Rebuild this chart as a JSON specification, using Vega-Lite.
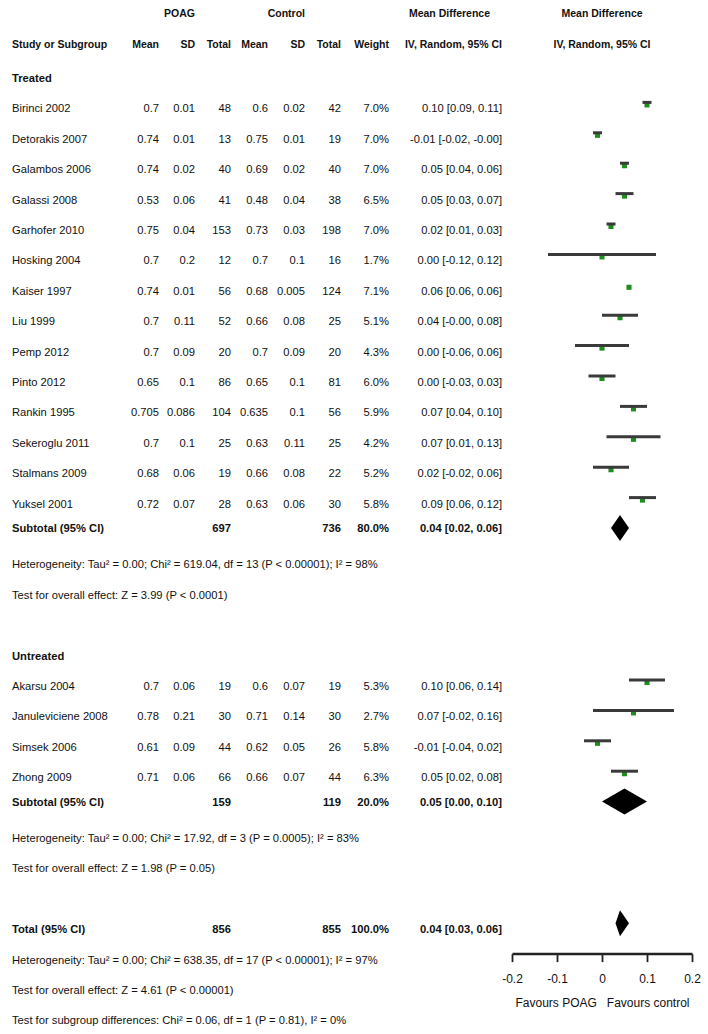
{
  "$schema": "https://vega.github.io/schema/vega-lite/v6.json",
  "padding": 0,
  "spacing": 0,
  "bounds": "flush",
  "background": "white",
  "config": {
    "view": {"stroke": null},
    "concat": {"spacing": 0},
    "text": {"font": "Liberation Sans, Arial, sans-serif", "fontSize": 11.2, "color": "#111"},
    "axis": {"labelFont": "Liberation Sans, Arial, sans-serif", "titleFont": "Liberation Sans, Arial, sans-serif"}
  },
  "datasets": {
    "rows": [
      {"row": -2, "kind": "hdr", "sd1": "POAG", "sd2": "Control", "ci": "Mean Difference"},
      {"row": -1, "kind": "hdr", "study": "Study or Subgroup", "m1": "Mean", "sd1": "SD", "n1": "Total", "m2": "Mean", "sd2": "SD", "n2": "Total", "w": "Weight", "ci": "IV, Random, 95% CI"},
      {"row": 0, "kind": "group", "study": "Treated"},
      {"row": 1, "kind": "study", "study": "Birinci 2002", "m1": 0.7, "sd1": 0.01, "n1": 48, "m2": 0.6, "sd2": 0.02, "n2": 42, "w": "7.0%", "ci": "0.10 [0.09, 0.11]", "md": 0.10, "lo": 0.09, "hi": 0.11},
      {"row": 2, "kind": "study", "study": "Detorakis 2007", "m1": 0.74, "sd1": 0.01, "n1": 13, "m2": 0.75, "sd2": 0.01, "n2": 19, "w": "7.0%", "ci": "-0.01 [-0.02, -0.00]", "md": -0.01, "lo": -0.02, "hi": -0.00},
      {"row": 3, "kind": "study", "study": "Galambos 2006", "m1": 0.74, "sd1": 0.02, "n1": 40, "m2": 0.69, "sd2": 0.02, "n2": 40, "w": "7.0%", "ci": "0.05 [0.04, 0.06]", "md": 0.05, "lo": 0.04, "hi": 0.06},
      {"row": 4, "kind": "study", "study": "Galassi 2008", "m1": 0.53, "sd1": 0.06, "n1": 41, "m2": 0.48, "sd2": 0.04, "n2": 38, "w": "6.5%", "ci": "0.05 [0.03, 0.07]", "md": 0.05, "lo": 0.03, "hi": 0.07},
      {"row": 5, "kind": "study", "study": "Garhofer 2010", "m1": 0.75, "sd1": 0.04, "n1": 153, "m2": 0.73, "sd2": 0.03, "n2": 198, "w": "7.0%", "ci": "0.02 [0.01, 0.03]", "md": 0.02, "lo": 0.01, "hi": 0.03},
      {"row": 6, "kind": "study", "study": "Hosking 2004", "m1": 0.7, "sd1": 0.2, "n1": 12, "m2": 0.7, "sd2": 0.1, "n2": 16, "w": "1.7%", "ci": "0.00 [-0.12, 0.12]", "md": 0.00, "lo": -0.12, "hi": 0.12},
      {"row": 7, "kind": "study", "study": "Kaiser 1997", "m1": 0.74, "sd1": 0.01, "n1": 56, "m2": 0.68, "sd2": 0.005, "n2": 124, "w": "7.1%", "ci": "0.06 [0.06, 0.06]", "md": 0.06, "lo": 0.06, "hi": 0.06},
      {"row": 8, "kind": "study", "study": "Liu 1999", "m1": 0.7, "sd1": 0.11, "n1": 52, "m2": 0.66, "sd2": 0.08, "n2": 25, "w": "5.1%", "ci": "0.04 [-0.00, 0.08]", "md": 0.04, "lo": -0.00, "hi": 0.08},
      {"row": 9, "kind": "study", "study": "Pemp 2012", "m1": 0.7, "sd1": 0.09, "n1": 20, "m2": 0.7, "sd2": 0.09, "n2": 20, "w": "4.3%", "ci": "0.00 [-0.06, 0.06]", "md": 0.00, "lo": -0.06, "hi": 0.06},
      {"row": 10, "kind": "study", "study": "Pinto 2012", "m1": 0.65, "sd1": 0.1, "n1": 86, "m2": 0.65, "sd2": 0.1, "n2": 81, "w": "6.0%", "ci": "0.00 [-0.03, 0.03]", "md": 0.00, "lo": -0.03, "hi": 0.03},
      {"row": 11, "kind": "study", "study": "Rankin 1995", "m1": 0.705, "sd1": 0.086, "n1": 104, "m2": 0.635, "sd2": 0.1, "n2": 56, "w": "5.9%", "ci": "0.07 [0.04, 0.10]", "md": 0.07, "lo": 0.04, "hi": 0.10},
      {"row": 12, "kind": "study", "study": "Sekeroglu 2011", "m1": 0.7, "sd1": 0.1, "n1": 25, "m2": 0.63, "sd2": 0.11, "n2": 25, "w": "4.2%", "ci": "0.07 [0.01, 0.13]", "md": 0.07, "lo": 0.01, "hi": 0.13},
      {"row": 13, "kind": "study", "study": "Stalmans 2009", "m1": 0.68, "sd1": 0.06, "n1": 19, "m2": 0.66, "sd2": 0.08, "n2": 22, "w": "5.2%", "ci": "0.02 [-0.02, 0.06]", "md": 0.02, "lo": -0.02, "hi": 0.06},
      {"row": 14, "kind": "study", "study": "Yuksel 2001", "m1": 0.72, "sd1": 0.07, "n1": 28, "m2": 0.63, "sd2": 0.06, "n2": 30, "w": "5.8%", "ci": "0.09 [0.06, 0.12]", "md": 0.09, "lo": 0.06, "hi": 0.12},
      {"row": 15, "kind": "sub", "study": "Subtotal (95% CI)", "n1": 697, "n2": 736, "w": "80.0%", "ci": "0.04 [0.02, 0.06]", "md": 0.04, "lo": 0.02, "hi": 0.06},
      {"row": 16, "kind": "note", "study": "Heterogeneity: Tau² = 0.00; Chi² = 619.04, df = 13 (P < 0.00001); I² = 98%"},
      {"row": 17, "kind": "note", "study": "Test for overall effect: Z = 3.99 (P < 0.0001)"},
      {"row": 19, "kind": "group", "study": "Untreated"},
      {"row": 20, "kind": "study", "study": "Akarsu 2004", "m1": 0.7, "sd1": 0.06, "n1": 19, "m2": 0.6, "sd2": 0.07, "n2": 19, "w": "5.3%", "ci": "0.10 [0.06, 0.14]", "md": 0.10, "lo": 0.06, "hi": 0.14},
      {"row": 21, "kind": "study", "study": "Januleviciene 2008", "m1": 0.78, "sd1": 0.21, "n1": 30, "m2": 0.71, "sd2": 0.14, "n2": 30, "w": "2.7%", "ci": "0.07 [-0.02, 0.16]", "md": 0.07, "lo": -0.02, "hi": 0.16},
      {"row": 22, "kind": "study", "study": "Simsek 2006", "m1": 0.61, "sd1": 0.09, "n1": 44, "m2": 0.62, "sd2": 0.05, "n2": 26, "w": "5.8%", "ci": "-0.01 [-0.04, 0.02]", "md": -0.01, "lo": -0.04, "hi": 0.02},
      {"row": 23, "kind": "study", "study": "Zhong 2009", "m1": 0.71, "sd1": 0.06, "n1": 66, "m2": 0.66, "sd2": 0.07, "n2": 44, "w": "6.3%", "ci": "0.05 [0.02, 0.08]", "md": 0.05, "lo": 0.02, "hi": 0.08},
      {"row": 24, "kind": "sub", "study": "Subtotal (95% CI)", "n1": 159, "n2": 119, "w": "20.0%", "ci": "0.05 [0.00, 0.10]", "md": 0.05, "lo": 0.00, "hi": 0.10},
      {"row": 25, "kind": "note", "study": "Heterogeneity: Tau² = 0.00; Chi² = 17.92, df = 3 (P = 0.0005); I² = 83%"},
      {"row": 26, "kind": "note", "study": "Test for overall effect: Z = 1.98 (P = 0.05)"},
      {"row": 28, "kind": "total", "study": "Total (95% CI)", "n1": 856, "n2": 855, "w": "100.0%", "ci": "0.04 [0.03, 0.06]", "md": 0.04, "lo": 0.03, "hi": 0.06},
      {"row": 29, "kind": "note", "study": "Heterogeneity: Tau² = 0.00; Chi² = 638.35, df = 17 (P < 0.00001); I² = 97%"},
      {"row": 30, "kind": "note", "study": "Test for overall effect: Z = 4.61 (P < 0.00001)"},
      {"row": 31, "kind": "note", "study": "Test for subgroup differences: Chi² = 0.06, df = 1 (P = 0.81), I² = 0%"}
    ]
  },
  "hconcat": [
    {
      "width": 512,
      "height": 1034,
      "layer": [
        {
          "mark": {"type": "rule", "strokeWidth": 2.5, "color": "#222"},
          "encoding": {
            "x": {"datum": -1, "type": "quantitative", "scale": {"domain": [-1, 0, 1, 2, 3, 4, 5, 6, 7, 8, 9], "range": [10, 12, 159, 195, 231, 268, 305, 341, 389, 502, 512], "nice": false, "zero": false}, "axis": null},
            "x2": {"datum": 9},
            "y": {"datum": -0.5, "type": "quantitative", "scale": {"domain": [-2.36842, 31.64474], "reverse": true, "nice": false, "zero": false}, "axis": null}
          }
        },
        {
          "data": {"name": "rows"},
          "transform": [{"filter": "isValid(datum.study)"}],
          "mark": {"type": "text", "align": "left", "baseline": "middle", "dy": {"expr": "datum.kind === 'hdr' ? 3 : datum.kind === 'sub' ? 1 : 7"}, "fontSize": {"expr": "datum.kind === 'hdr' ? 10.5 : 11.2"}, "fontWeight": {"expr": "datum.kind === 'study' || datum.kind === 'note' ? 'normal' : 'bold'"}},
          "encoding": {
            "x": {"datum": 0, "type": "quantitative", "scale": {"domain": [-1, 0, 1, 2, 3, 4, 5, 6, 7, 8, 9], "range": [10, 12, 159, 195, 231, 268, 305, 341, 389, 502, 512], "nice": false, "zero": false}, "axis": null},
            "y": {"field": "row", "type": "quantitative", "scale": {"domain": [-2.36842, 31.64474], "reverse": true, "nice": false, "zero": false}, "axis": null},
            "text": {"field": "study", "type": "nominal"}
          }
        },
        {
          "data": {"name": "rows"},
          "transform": [{"filter": "isValid(datum.m1)"}],
          "mark": {"type": "text", "align": "right", "baseline": "middle", "dy": {"expr": "datum.kind === 'hdr' ? 3 : datum.kind === 'sub' ? 1 : 7"}, "fontSize": {"expr": "datum.kind === 'hdr' ? 10.5 : 11.2"}, "fontWeight": {"expr": "datum.kind === 'study' || datum.kind === 'note' ? 'normal' : 'bold'"}},
          "encoding": {
            "x": {"datum": 1, "type": "quantitative", "scale": {"domain": [-1, 0, 1, 2, 3, 4, 5, 6, 7, 8, 9], "range": [10, 12, 159, 195, 231, 268, 305, 341, 389, 502, 512], "nice": false, "zero": false}, "axis": null},
            "y": {"field": "row", "type": "quantitative", "scale": {"domain": [-2.36842, 31.64474], "reverse": true, "nice": false, "zero": false}, "axis": null},
            "text": {"field": "m1", "type": "nominal"}
          }
        },
        {
          "data": {"name": "rows"},
          "transform": [{"filter": "isValid(datum.sd1)"}],
          "mark": {"type": "text", "align": "right", "baseline": "middle", "dy": {"expr": "datum.kind === 'hdr' ? 3 : datum.kind === 'sub' ? 1 : 7"}, "fontSize": {"expr": "datum.kind === 'hdr' ? 10.5 : 11.2"}, "fontWeight": {"expr": "datum.kind === 'study' || datum.kind === 'note' ? 'normal' : 'bold'"}},
          "encoding": {
            "x": {"datum": 2, "type": "quantitative", "scale": {"domain": [-1, 0, 1, 2, 3, 4, 5, 6, 7, 8, 9], "range": [10, 12, 159, 195, 231, 268, 305, 341, 389, 502, 512], "nice": false, "zero": false}, "axis": null},
            "y": {"field": "row", "type": "quantitative", "scale": {"domain": [-2.36842, 31.64474], "reverse": true, "nice": false, "zero": false}, "axis": null},
            "text": {"field": "sd1", "type": "nominal"}
          }
        },
        {
          "data": {"name": "rows"},
          "transform": [{"filter": "isValid(datum.n1)"}],
          "mark": {"type": "text", "align": "right", "baseline": "middle", "dy": {"expr": "datum.kind === 'hdr' ? 3 : datum.kind === 'sub' ? 1 : 7"}, "fontSize": {"expr": "datum.kind === 'hdr' ? 10.5 : 11.2"}, "fontWeight": {"expr": "datum.kind === 'study' || datum.kind === 'note' ? 'normal' : 'bold'"}},
          "encoding": {
            "x": {"datum": 3, "type": "quantitative", "scale": {"domain": [-1, 0, 1, 2, 3, 4, 5, 6, 7, 8, 9], "range": [10, 12, 159, 195, 231, 268, 305, 341, 389, 502, 512], "nice": false, "zero": false}, "axis": null},
            "y": {"field": "row", "type": "quantitative", "scale": {"domain": [-2.36842, 31.64474], "reverse": true, "nice": false, "zero": false}, "axis": null},
            "text": {"field": "n1", "type": "nominal"}
          }
        },
        {
          "data": {"name": "rows"},
          "transform": [{"filter": "isValid(datum.m2)"}],
          "mark": {"type": "text", "align": "right", "baseline": "middle", "dy": {"expr": "datum.kind === 'hdr' ? 3 : datum.kind === 'sub' ? 1 : 7"}, "fontSize": {"expr": "datum.kind === 'hdr' ? 10.5 : 11.2"}, "fontWeight": {"expr": "datum.kind === 'study' || datum.kind === 'note' ? 'normal' : 'bold'"}},
          "encoding": {
            "x": {"datum": 4, "type": "quantitative", "scale": {"domain": [-1, 0, 1, 2, 3, 4, 5, 6, 7, 8, 9], "range": [10, 12, 159, 195, 231, 268, 305, 341, 389, 502, 512], "nice": false, "zero": false}, "axis": null},
            "y": {"field": "row", "type": "quantitative", "scale": {"domain": [-2.36842, 31.64474], "reverse": true, "nice": false, "zero": false}, "axis": null},
            "text": {"field": "m2", "type": "nominal"}
          }
        },
        {
          "data": {"name": "rows"},
          "transform": [{"filter": "isValid(datum.sd2)"}],
          "mark": {"type": "text", "align": "right", "baseline": "middle", "dy": {"expr": "datum.kind === 'hdr' ? 3 : datum.kind === 'sub' ? 1 : 7"}, "fontSize": {"expr": "datum.kind === 'hdr' ? 10.5 : 11.2"}, "fontWeight": {"expr": "datum.kind === 'study' || datum.kind === 'note' ? 'normal' : 'bold'"}},
          "encoding": {
            "x": {"datum": 5, "type": "quantitative", "scale": {"domain": [-1, 0, 1, 2, 3, 4, 5, 6, 7, 8, 9], "range": [10, 12, 159, 195, 231, 268, 305, 341, 389, 502, 512], "nice": false, "zero": false}, "axis": null},
            "y": {"field": "row", "type": "quantitative", "scale": {"domain": [-2.36842, 31.64474], "reverse": true, "nice": false, "zero": false}, "axis": null},
            "text": {"field": "sd2", "type": "nominal"}
          }
        },
        {
          "data": {"name": "rows"},
          "transform": [{"filter": "isValid(datum.n2)"}],
          "mark": {"type": "text", "align": "right", "baseline": "middle", "dy": {"expr": "datum.kind === 'hdr' ? 3 : datum.kind === 'sub' ? 1 : 7"}, "fontSize": {"expr": "datum.kind === 'hdr' ? 10.5 : 11.2"}, "fontWeight": {"expr": "datum.kind === 'study' || datum.kind === 'note' ? 'normal' : 'bold'"}},
          "encoding": {
            "x": {"datum": 6, "type": "quantitative", "scale": {"domain": [-1, 0, 1, 2, 3, 4, 5, 6, 7, 8, 9], "range": [10, 12, 159, 195, 231, 268, 305, 341, 389, 502, 512], "nice": false, "zero": false}, "axis": null},
            "y": {"field": "row", "type": "quantitative", "scale": {"domain": [-2.36842, 31.64474], "reverse": true, "nice": false, "zero": false}, "axis": null},
            "text": {"field": "n2", "type": "nominal"}
          }
        },
        {
          "data": {"name": "rows"},
          "transform": [{"filter": "isValid(datum.w)"}],
          "mark": {"type": "text", "align": "right", "baseline": "middle", "dy": {"expr": "datum.kind === 'hdr' ? 3 : datum.kind === 'sub' ? 1 : 7"}, "fontSize": {"expr": "datum.kind === 'hdr' ? 10.5 : 11.2"}, "fontWeight": {"expr": "datum.kind === 'study' || datum.kind === 'note' ? 'normal' : 'bold'"}},
          "encoding": {
            "x": {"datum": 7, "type": "quantitative", "scale": {"domain": [-1, 0, 1, 2, 3, 4, 5, 6, 7, 8, 9], "range": [10, 12, 159, 195, 231, 268, 305, 341, 389, 502, 512], "nice": false, "zero": false}, "axis": null},
            "y": {"field": "row", "type": "quantitative", "scale": {"domain": [-2.36842, 31.64474], "reverse": true, "nice": false, "zero": false}, "axis": null},
            "text": {"field": "w", "type": "nominal"}
          }
        },
        {
          "data": {"name": "rows"},
          "transform": [{"filter": "isValid(datum.ci)"}],
          "mark": {"type": "text", "align": "right", "baseline": "middle", "dx": {"expr": "datum.row === -2 ? -12 : 0"}, "dy": {"expr": "datum.kind === 'hdr' ? 3 : datum.kind === 'sub' ? 1 : 7"}, "fontSize": {"expr": "datum.kind === 'hdr' ? 10.5 : 11.2"}, "fontWeight": {"expr": "datum.kind === 'study' || datum.kind === 'note' ? 'normal' : 'bold'"}},
          "encoding": {
            "x": {"datum": 8, "type": "quantitative", "scale": {"domain": [-1, 0, 1, 2, 3, 4, 5, 6, 7, 8, 9], "range": [10, 12, 159, 195, 231, 268, 305, 341, 389, 502, 512], "nice": false, "zero": false}, "axis": null},
            "y": {"field": "row", "type": "quantitative", "scale": {"domain": [-2.36842, 31.64474], "reverse": true, "nice": false, "zero": false}, "axis": null},
            "text": {"field": "ci", "type": "nominal"}
          }
        }
      ]
    },
    {
      "width": 180,
      "height": 953.6,
      "layer": [
        {
          "mark": {"type": "rule", "strokeWidth": 2.5, "color": "#222"},
          "encoding": {
            "y": {"datum": -0.5, "type": "quantitative", "scale": {"domain": [-2.36842, 29], "reverse": true, "nice": false, "zero": false}, "axis": null}
          }
        },
        {
          "mark": {"type": "rule", "strokeWidth": 1.5, "color": "#333"},
          "encoding": {
            "x": {"datum": 0, "type": "quantitative", "scale": {"domain": [-0.2, 0.2], "nice": false, "zero": false},
              "axis": {"orient": "bottom", "values": [-0.2, -0.1, 0, 0.1, 0.2], "labelExpr": "toString(datum.value)", "domain": true, "domainColor": "#222", "domainWidth": 2.5, "grid": false, "ticks": true, "tickSize": 8, "tickWidth": 1.8, "tickColor": "#222", "labelFontSize": 12, "labelColor": "#111", "labelPadding": 12, "labelFlush": false, "labelOverlap": false, "title": "Favours POAG\u00a0\u00a0 Favours control", "titleFontSize": 12, "titleFontWeight": "normal", "titleColor": "#111", "titlePadding": 13}},
            "y": {"datum": -0.5, "type": "quantitative", "scale": {"domain": [-2.36842, 29], "reverse": true, "nice": false, "zero": false}, "axis": null},
            "y2": {"datum": 29}
          }
        },
        {
          "data": {"name": "rows"},
          "transform": [{"filter": "datum.kind === 'study'"}],
          "mark": {"type": "point", "shape": "square", "filled": true, "size": 26, "color": "#1e8f1e", "opacity": 1, "yOffset": 2.5},
          "encoding": {
            "x": {"field": "md", "type": "quantitative"},
            "y": {"field": "row", "type": "quantitative"}
          }
        },
        {
          "data": {"name": "rows"},
          "transform": [{"filter": "datum.kind === 'study'"}],
          "mark": {"type": "rule", "strokeWidth": 3, "color": "#3a3a3a"},
          "encoding": {
            "x": {"field": "lo", "type": "quantitative"},
            "x2": {"field": "hi"},
            "y": {"field": "row", "type": "quantitative"}
          }
        },
        {
          "data": {"name": "rows"},
          "transform": [
            {"filter": "datum.kind === 'sub' || datum.kind === 'total'"},
            {"fold": ["lo", "md", "hi"], "as": ["part", "val"]}
          ],
          "mark": {"type": "area", "color": "#000", "opacity": 1, "yOffset": {"expr": "datum.part === 'md' ? -13 : 0"}, "y2Offset": {"expr": "datum.part === 'md' ? 13 : 0"}},
          "encoding": {
            "x": {"field": "val", "type": "quantitative"},
            "y": {"field": "row", "type": "quantitative"},
            "y2": {"field": "row"},
            "detail": {"field": "row", "type": "nominal"}
          }
        },
        {
          "data": {"values": [{"row": -2, "t": "Mean Difference"}, {"row": -1, "t": "IV, Random, 95% CI"}]},
          "mark": {"type": "text", "align": "center", "baseline": "middle", "dy": 3, "fontWeight": "bold", "fontSize": 10.5},
          "encoding": {
            "x": {"datum": 0, "type": "quantitative"},
            "y": {"field": "row", "type": "quantitative"},
            "text": {"field": "t", "type": "nominal"}
          }
        }
      ]
    },
    {
      "width": 16,
      "height": 1034,
      "layer": [
        {
          "mark": {"type": "rule", "strokeWidth": 2.5, "color": "#222"},
          "encoding": {
            "y": {"datum": -0.5, "type": "quantitative", "scale": {"domain": [-2.36842, 31.64474], "reverse": true, "nice": false, "zero": false}, "axis": null}
          }
        }
      ]
    }
  ]
}
